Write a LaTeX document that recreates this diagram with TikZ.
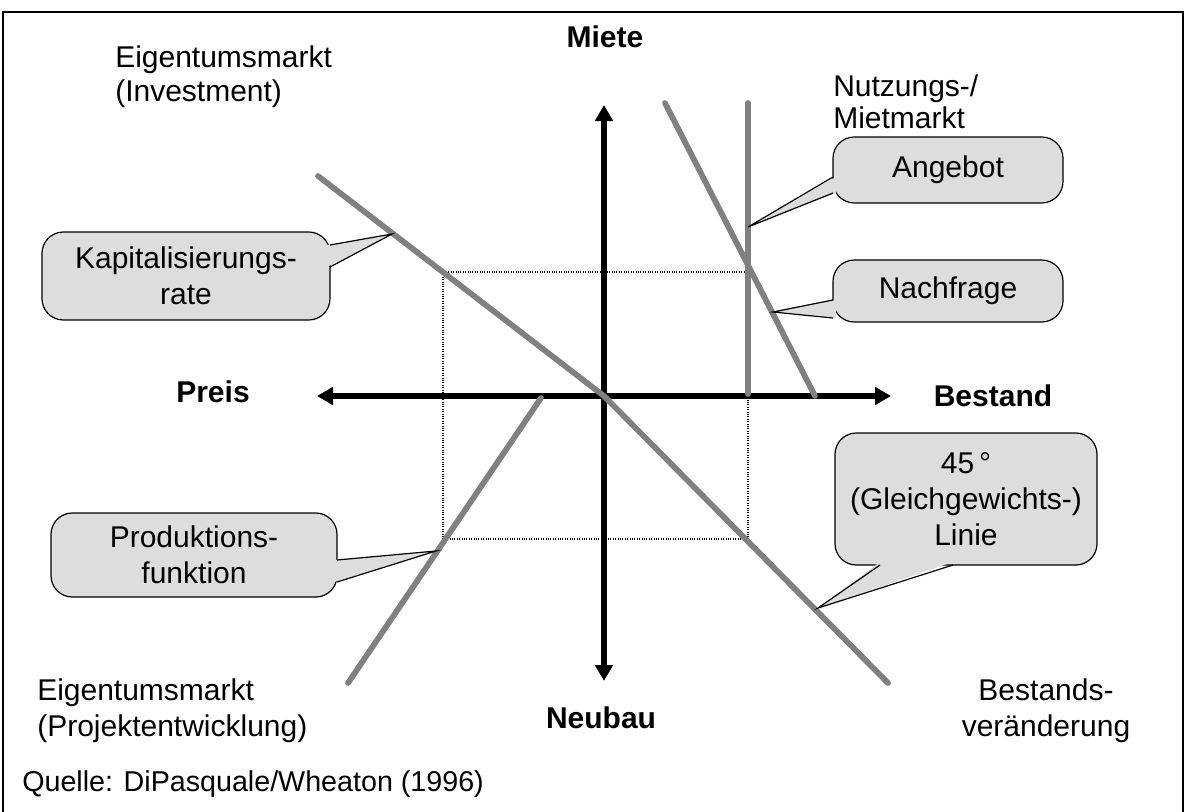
\documentclass[tikz,border=0pt]{standalone}
\usepackage{fontspec}
\setmainfont{Liberation Sans}
\usetikzlibrary{arrows.meta}
\definecolor{curvegray}{HTML}{808080}
\definecolor{calfill}{HTML}{DDDDDD}

\begin{document}
\begin{tikzpicture}[x=0.75pt,y=-0.75pt,
  lbl/.style={font=\fontsize{22.5}{27}\selectfont, align=left, inner sep=0pt},
  axlbl/.style={font=\fontsize{22.5}{27}\selectfont\bfseries, inner sep=0pt},
  callbox/.style={draw=black, line width=0.9pt, fill=calfill, rounded corners=16pt,
    align=center, font=\fontsize{22.5}{27}\selectfont, inner sep=0pt},
  curve/.style={draw=curvegray, line width=4.3pt, line cap=round},
  axis/.style={line width=3.8pt,
    {Triangle[length=12pt,width=13pt]}-{Triangle[length=12pt,width=13pt]}},
  ptrfill/.style={fill=calfill},
  ptredge/.style={draw=black, line width=0.9pt, line join=miter},
]
\useasboundingbox (0,0) rectangle (1186,811);
\fill[white] (0,0) rectangle (1186,811);

% outer frame (open at the bottom)
\draw[line width=1.5pt] (3,840) -- (3,12) -- (1183,12) -- (1183,840);

% equilibrium rectangle
\draw[densely dotted, line width=0.8pt] (443,272) rectangle (748,539);

% axes
\coordinate (O) at (604,396);
\coordinate (ytop) at (604,105);
\coordinate (ybot) at (604,681);
\coordinate (xleft) at (317,396);
\coordinate (xright) at (891,396);
\draw[axis] (ybot) -- (ytop);
\draw[axis] (xleft) -- (xright);

% market curves
\coordinate (capstart) at (318,176);
\coordinate (eqend) at (888,683);
\coordinate (prodtop) at (541,398);
\coordinate (prodbot) at (348,683);
\coordinate (suptop) at (748,103);
\coordinate (supbot) at (748,394);
\coordinate (demtop) at (665,103);
\coordinate (dembot) at (815,396);
\draw[curve] (capstart) -- (O);
\draw[curve] (O) -- (eqend);
\draw[curve] (prodtop) -- (prodbot);
\draw[curve] (suptop) -- (supbot);
\draw[curve] (demtop) -- (dembot);

% axis labels
\node[axlbl] (miete) at (605,37) {Miete};
\node[axlbl] (preis) at (213,392) {Preis};
\node[axlbl] (bestand) at (993,396) {Bestand};
\node[axlbl] (neubau) at (601,718) {Neubau};

% quadrant labels
\node[lbl, anchor=north west, font=\fontsize{22.5}{25.5}\selectfont] (invest) at (115,45) {Eigentumsmarkt\\(Investment)};
\node[lbl, anchor=north west, font=\fontsize{22.5}{24.5}\selectfont] (miet) at (833,74) {Nutzungs-/\\Mietmarkt};
\node[lbl, anchor=north west] (projekt) at (37,678) {Eigentumsmarkt\\(Projektentwicklung)};
\node[lbl, anchor=north, align=center] (bestv) at (1046,678) {Bestands-\\veränderung};
\node[lbl, anchor=west, font=\fontsize{21.5}{25}\selectfont] (quelle) at (22,784) {Quelle: DiPasquale/Wheaton (1996)};

% callout: capitalisation rate
\node[callbox, minimum width=216pt, minimum height=66pt] (kap) at (186,276) {Kapitalisierungs-\\rate};
\coordinate (kaptip) at (392,234);
\fill[ptrfill] (327,245) -- (kaptip) -- (327,267) -- cycle;
\draw[ptredge] (330,245) -- (kaptip) -- (330,267);

% callout: supply
\node[callbox, minimum width=172.5pt, minimum height=49.5pt] (ang) at (948,170) {Angebot};
\coordinate (angtip) at (748,227);
\fill[ptrfill] (836,177) -- (angtip) -- (836,193) -- cycle;
\draw[ptredge] (833,177) -- (angtip) -- (833,193);

% callout: demand
\node[callbox, minimum width=172.5pt, minimum height=46.5pt] (nach) at (948,291) {Nachfrage};
\coordinate (nachtip) at (773,312);
\fill[ptrfill] (836,300) -- (nachtip) -- (836,318) -- cycle;
\draw[ptredge] (833,300) -- (nachtip) -- (833,318);

% callout: 45 degree line
\node[callbox, minimum width=196.5pt, minimum height=99pt] (glg) at (966,499) {45\,°\\(Gleichgewichts-)\\Linie};
\coordinate (glgtip) at (818,608);
\fill[ptrfill] (880,562) -- (glgtip) -- (953,562) -- cycle;
\draw[ptredge] (880,565) -- (glgtip) -- (953,565);

% callout: production function
\node[callbox, minimum width=214.5pt, minimum height=63pt] (prod) at (194,555) {Produktions-\\funktion};
\coordinate (prodtip) at (436,551);
\fill[ptrfill] (334,560) -- (prodtip) -- (334,582) -- cycle;
\draw[ptredge] (337,560) -- (prodtip) -- (337,582);
\end{tikzpicture}
\end{document}
